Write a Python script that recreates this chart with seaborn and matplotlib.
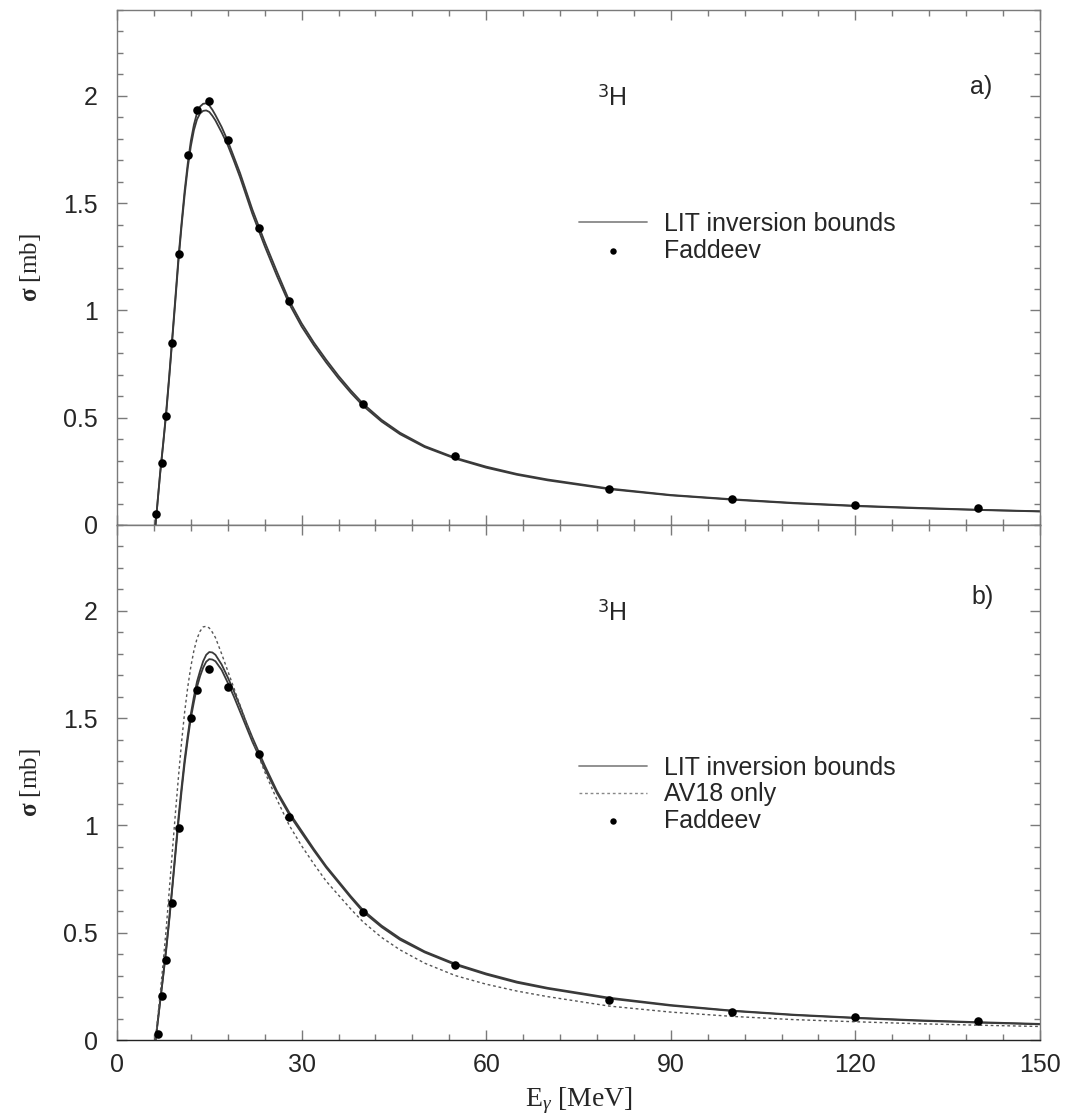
import numpy as np
import pandas as pd
import matplotlib
matplotlib.use("Agg")
import matplotlib.pyplot as plt
from matplotlib.ticker import MultipleLocator, FuncFormatter
import seaborn as sns

# ---------------- data ----------------
energy_grid = [6.26, 6.6, 7, 7.5, 8, 8.5, 9, 9.5, 10, 10.5,
               11, 11.5, 12, 12.5, 13, 13.5, 14, 14.5, 15, 15.5,
               16, 17, 18, 19, 20, 21, 22, 24, 26, 28,
               30, 32, 34, 36, 38, 40, 43, 46, 50, 55,
               60, 65, 70, 80, 90, 100, 110, 120, 130, 140,
               150]

# panel a)
lit_a_upper = [0, 0.11, 0.24, 0.38, 0.53, 0.70, 0.88, 1.065, 1.25, 1.41,
               1.56, 1.685, 1.79, 1.865, 1.92, 1.95, 1.963, 1.965, 1.955, 1.935,
               1.91, 1.855, 1.79, 1.715, 1.64, 1.555, 1.47, 1.32, 1.18, 1.045,
               0.94, 0.85, 0.77, 0.695, 0.627, 0.565, 0.49, 0.43, 0.368, 0.313,
               0.272, 0.238, 0.212, 0.17, 0.14, 0.12, 0.103, 0.09, 0.08, 0.071,
               0.064]
lit_a_lower = [0, 0.108, 0.235, 0.375, 0.52, 0.69, 0.87, 1.05, 1.235, 1.395,
               1.54, 1.665, 1.765, 1.84, 1.89, 1.918, 1.93, 1.932, 1.925, 1.907,
               1.885, 1.83, 1.77, 1.697, 1.62, 1.535, 1.45, 1.30, 1.16, 1.03,
               0.925, 0.837, 0.757, 0.683, 0.616, 0.555, 0.482, 0.423, 0.363, 0.309,
               0.267, 0.234, 0.208, 0.167, 0.138, 0.118, 0.101, 0.088, 0.078, 0.07,
               0.063]
fad_a_E = [6.4, 7.3, 8.0, 9.0, 10.0, 11.6, 13.0, 15.0, 18.0, 23.0, 28.0, 40, 55, 80, 100, 120, 140]
fad_a_sigma = [0.05, 0.29, 0.51, 0.848, 1.265, 1.725, 1.933, 1.974, 1.794, 1.383, 1.043,
               0.565, 0.32, 0.17, 0.12, 0.093, 0.078]

# panel b)
lit_b_upper = [0, 0.08, 0.18, 0.30, 0.43, 0.57, 0.72, 0.88, 1.04, 1.18,
               1.31, 1.42, 1.52, 1.60, 1.67, 1.72, 1.765, 1.795, 1.808, 1.806,
               1.795, 1.75, 1.69, 1.625, 1.555, 1.48, 1.41, 1.28, 1.16, 1.06,
               0.975, 0.89, 0.81, 0.74, 0.67, 0.605, 0.533, 0.474, 0.413, 0.355,
               0.31, 0.272, 0.243, 0.197, 0.163, 0.137, 0.118, 0.104, 0.092, 0.083,
               0.075]
lit_b_lower = [0, 0.078, 0.175, 0.295, 0.42, 0.56, 0.71, 0.865, 1.02, 1.16,
               1.29, 1.40, 1.50, 1.575, 1.645, 1.695, 1.735, 1.763, 1.775, 1.773,
               1.765, 1.725, 1.665, 1.60, 1.53, 1.46, 1.39, 1.265, 1.15, 1.05,
               0.965, 0.882, 0.803, 0.733, 0.663, 0.597, 0.526, 0.467, 0.408, 0.35,
               0.305, 0.267, 0.239, 0.193, 0.16, 0.135, 0.116, 0.102, 0.09, 0.081,
               0.073]
av18_b = [0, 0.10, 0.21, 0.36, 0.52, 0.70, 0.88, 1.06, 1.23, 1.39,
          1.53, 1.645, 1.74, 1.815, 1.87, 1.905, 1.925, 1.928, 1.92, 1.90,
          1.875, 1.80, 1.72, 1.64, 1.56, 1.48, 1.40, 1.25, 1.12, 1.00,
          0.905, 0.82, 0.74, 0.675, 0.61, 0.55, 0.478, 0.42, 0.358, 0.30,
          0.26, 0.228, 0.202, 0.158, 0.13, 0.11, 0.095, 0.085, 0.076, 0.069,
          0.063]
fad_b_E = [6.6, 7.3, 8.0, 9.0, 10.0, 12.0, 13.0, 15.0, 18.0, 23.0, 28.0, 40, 55, 80, 100, 120, 140]
fad_b_sigma = [0.03, 0.205, 0.375, 0.64, 0.99, 1.50, 1.63, 1.73, 1.645, 1.335, 1.04,
               0.595, 0.35, 0.186, 0.13, 0.107, 0.088]

# ---------------- style ----------------
sns.set_theme(style="ticks")
plt.rcParams["font.family"] = ["Liberation Sans", "DejaVu Sans"]
plt.rcParams["mathtext.fontset"] = "custom"
plt.rcParams["mathtext.rm"] = "Liberation Serif"
plt.rcParams["mathtext.it"] = "Liberation Serif:italic"
plt.rcParams["mathtext.bf"] = "Liberation Serif:bold"

W, H = 1076, 1116
fig = plt.figure(figsize=(W / 100, H / 100), dpi=100)
left, right = 117 / W, 1040 / W
ax_a = fig.add_axes([left, 1 - 525 / H, right - left, 515 / H])
ax_b = fig.add_axes([left, 1 - 1040 / H, right - left, 515 / H], sharex=ax_a)

line_col = "#3a3a3a"
frame_col = "#7a7a7a"


def style_axes(ax, show_xlabels):
    ax.set_xlim(0, 150)
    ax.set_ylim(0, 2.4)
    ax.xaxis.set_major_locator(MultipleLocator(30))
    ax.xaxis.set_minor_locator(MultipleLocator(6))
    ax.yaxis.set_major_locator(MultipleLocator(0.5))
    ax.yaxis.set_minor_locator(MultipleLocator(0.1))
    ax.yaxis.set_major_formatter(FuncFormatter(lambda v, p: f"{v:g}"))
    ax.tick_params(which="both", direction="in", top=True, right=True, color=frame_col,
                   width=1.0)
    ax.tick_params(which="major", length=7)
    ax.tick_params(which="minor", length=4)
    ax.tick_params(axis="y", labelsize=18, pad=14)
    ax.tick_params(axis="x", labelsize=18, pad=9, labelbottom=show_xlabels)
    for s in ax.spines.values():
        s.set_visible(True)
        s.set_color(frame_col)
        s.set_linewidth(1.0)
    ax.spines["bottom"].set_color("#222222")
    ax.set_ylabel(r"$\mathbf{\sigma}$ [mb]", fontsize=18, family="Liberation Serif",
                  labelpad=14)
    ax.set_facecolor("white")


# panel a
df_a = pd.DataFrame({"E": energy_grid, "up": lit_a_upper, "lo": lit_a_lower})
sns.lineplot(data=df_a, x="E", y="up", ax=ax_a, color=line_col, lw=1.3,
             label="LIT inversion bounds", estimator=None, sort=False)
sns.lineplot(data=df_a, x="E", y="lo", ax=ax_a, color=line_col, lw=1.3,
             estimator=None, sort=False, legend=False)
sns.scatterplot(x=fad_a_E, y=fad_a_sigma, ax=ax_a, color="black", s=38,
                edgecolor="black", linewidth=0, label="Faddeev", zorder=5)

# panel b
df_b = pd.DataFrame({"E": energy_grid, "up": lit_b_upper, "lo": lit_b_lower, "av": av18_b})
sns.lineplot(data=df_b, x="E", y="up", ax=ax_b, color=line_col, lw=1.3,
             label="LIT inversion bounds", estimator=None, sort=False)
sns.lineplot(data=df_b, x="E", y="lo", ax=ax_b, color=line_col, lw=1.3,
             estimator=None, sort=False, legend=False)
sns.lineplot(data=df_b, x="E", y="av", ax=ax_b, color="#555555", lw=1.0,
             linestyle=(0, (2, 2)), label="AV18 only", estimator=None, sort=False)
sns.scatterplot(x=fad_b_E, y=fad_b_sigma, ax=ax_b, color="black", s=38,
                edgecolor="black", linewidth=0, label="Faddeev", zorder=5)

style_axes(ax_a, False)
style_axes(ax_b, True)
ax_a.set_xlabel("")
ax_b.set_xlabel(r"E$_\gamma$ [MeV]", fontsize=20, family="Liberation Serif", labelpad=6)

leg_kw = dict(loc="upper left", frameon=False, fontsize=18, handlelength=2.7,
              handletextpad=0.68, labelspacing=0.1, borderaxespad=0, markerscale=0.75)
leg_a = ax_a.legend(bbox_to_anchor=(0.49, 0.627), **leg_kw)
leg_b = ax_b.legend(bbox_to_anchor=(0.49, 0.571), **leg_kw)
for leg in (leg_a, leg_b):
    for h in leg.legend_handles:
        if isinstance(h, matplotlib.lines.Line2D):
            h.set_color("#888888")
        else:
            h.set_facecolor("black")
            h.set_edgecolor("black")

ax_a.text(0.52, 0.83, r"$^{\mathsf{3}}$H", transform=ax_a.transAxes, fontsize=18,
          ha="left", va="center")
ax_a.text(0.948, 0.85, "a)", transform=ax_a.transAxes, fontsize=18, ha="right", va="center")
ax_b.text(0.52, 0.83, r"$^{\mathsf{3}}$H", transform=ax_b.transAxes, fontsize=18,
          ha="left", va="center")
ax_b.text(0.95, 0.86, "b)", transform=ax_b.transAxes, fontsize=18, ha="right", va="center")

fig.savefig("out.png", dpi=100, facecolor="white")
